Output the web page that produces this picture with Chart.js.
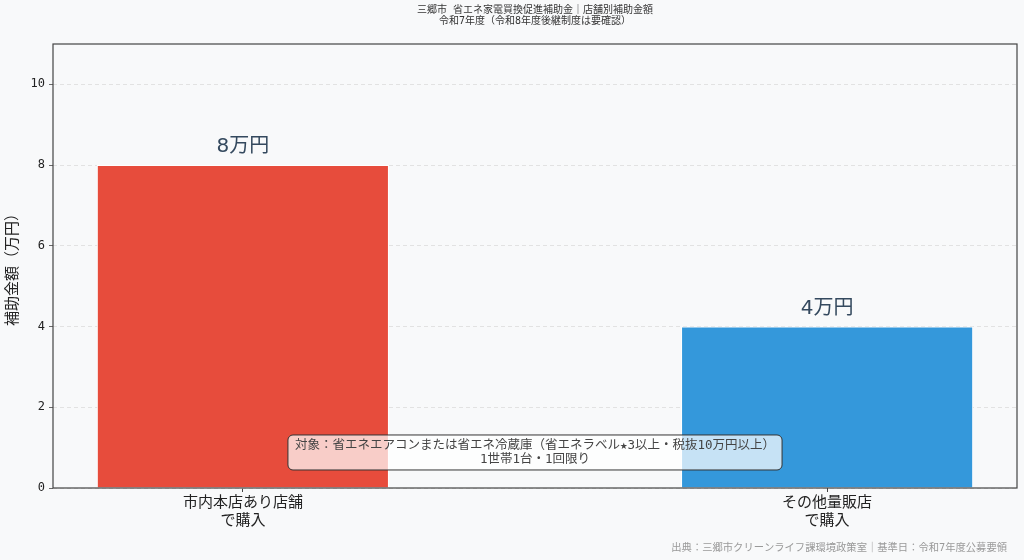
<!DOCTYPE html>
<html>
<head>
<meta charset="utf-8">
<script src="https://cdn.jsdelivr.net/npm/chart.js@4"></script>
<style>
  html, body { margin: 0; padding: 0; background: #f8f9fa; }
  #wrap { width: 1024px; height: 560px; }
</style>
</head>
<body>
<div id="wrap"><canvas id="myChart" width="1024" height="560"></canvas></div>
<script>
var categories = [["市内本店あり店舗", "で購入"], ["その他量販店", "で購入"]];
var amounts = [8, 4];
var barColors = ["#e74c3c", "#3498db"];
var yTicks = [0, 2, 4, 6, 8, 10];
var titleLines = ["三郷市 省エネ家電買換促進補助金｜店舗別補助金額", "令和7年度（令和8年度後継制度は要確認）"];
var noteLines = ["対象：省エネエアコンまたは省エネ冷蔵庫（省エネラベル★3以上・税抜10万円以上）", "1世帯1台・1回限り"];
var sourceText = "出典：三郷市クリーンライフ課環境政策室｜基準日：令和7年度公募要領";

var mono = "'DejaVu Sans Mono', 'Noto Sans CJK JP', sans-serif";
var sans = "'DejaVu Sans', 'Noto Sans CJK JP', sans-serif";

var extras = {
    id: "extras",
    beforeDraw: function (c) {
        var ctx = c.ctx;
        ctx.save();
        ctx.fillStyle = "#f8f9fa";
        ctx.fillRect(0, 0, c.width, c.height);
        ctx.restore();
    },
    afterDatasetsDraw: function (c) {
        var ctx = c.ctx, a = c.chartArea;
        var cx = (a.left + a.right) / 2;
        ctx.save();
        // frame
        ctx.strokeStyle = "#444";
        ctx.lineWidth = 1.2;
        ctx.strokeRect(a.left, a.top, a.right - a.left, a.bottom - a.top);

        // value labels above bars
        ctx.fillStyle = "#34495e";
        ctx.font = "20px " + sans;
        ctx.textAlign = "center";
        ctx.textBaseline = "bottom";
        c.getDatasetMeta(0).data.forEach(function (bar, i) {
            ctx.fillText(amounts[i] + "万円", bar.x, bar.y - 8);
        });

        // title
        ctx.fillStyle = "#333";
        ctx.font = "10px " + mono;
        ctx.textBaseline = "middle";
        ctx.fillText(titleLines[0], cx, 10);
        ctx.fillText(titleLines[1], cx, 21);

        // note box
        ctx.font = "12.5px " + mono;
        var w = 0;
        noteLines.forEach(function (t) { w = Math.max(w, ctx.measureText(t).width); });
        var by = a.bottom - (a.bottom - a.top) * 0.08;
        var bw = w + 14, bh = 35;
        ctx.beginPath();
        ctx.roundRect(cx - bw / 2, by - bh / 2, bw, bh, 5);
        ctx.fillStyle = "rgba(255,255,255,0.72)";
        ctx.fill();
        ctx.strokeStyle = "#333";
        ctx.lineWidth = 1;
        ctx.stroke();
        ctx.fillStyle = "#444";
        ctx.fillText(noteLines[0], cx, by - 7);
        ctx.fillText(noteLines[1], cx, by + 7);

        // source
        ctx.fillStyle = "#999";
        ctx.font = "10.3px " + mono;
        ctx.textAlign = "right";
        ctx.fillText(sourceText, 1007, 548);
        ctx.restore();
    }
};

new Chart(document.getElementById("myChart"), {
    type: "bar",
    data: {
        datasets: [{
            data: amounts.map(function (v, i) { return { x: i, y: v }; }),
            backgroundColor: barColors,
            borderColor: "#ffffff",
            borderWidth: 1,
            categoryPercentage: 1,
            barPercentage: 0.5
        }]
    },
    options: {
        responsive: false,
        animation: false,
        layout: { padding: { top: 44, right: 7, left: 0, bottom: 0 } },
        plugins: {
            legend: { display: false },
            tooltip: { enabled: false }
        },
        scales: {
            x: {
                type: "linear",
                offset: false,
                min: -0.325,
                max: 1.325,
                afterBuildTicks: function (s) {
                    s.ticks = categories.map(function (c, i) { return { value: i }; });
                },
                afterFit: function (s) { s.height = 72; },
                ticks: {
                    color: "#222",
                    font: { family: mono, size: 15 },
                    padding: 2,
                    maxRotation: 0,
                    autoSkip: false,
                    callback: function (v) { return categories[v]; }
                },
                grid: { offset: false, drawOnChartArea: false, drawTicks: true, tickLength: 4, tickColor: "#444" },
                border: { display: false }
            },
            y: {
                min: 0,
                max: 11,
                afterBuildTicks: function (s) {
                    s.ticks = yTicks.map(function (v) { return { value: v }; });
                },
                afterFit: function (s) { s.width = 53; },
                ticks: {
                    color: "#222",
                    font: { family: mono, size: 12 },
                    padding: 4
                },
                grid: { color: "#dcdcdc", lineWidth: 0.8, tickLength: 4, tickColor: "#444" },
                border: { display: false, dash: [4, 3] },
                title: {
                    display: true,
                    text: "補助金額（万円）",
                    color: "#222",
                    font: { family: mono, size: 15 },
                    padding: { top: 4, bottom: 0 }
                }
            }
        }
    },
    plugins: [extras]
});
</script>
</body>
</html>
